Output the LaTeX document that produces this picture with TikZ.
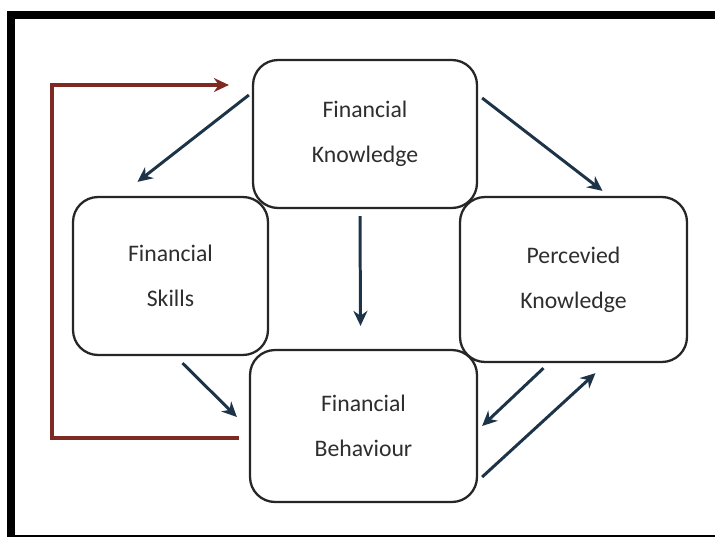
\documentclass[tikz,border=0pt]{standalone}
\usepackage{fontspec}
\setmainfont{Carlito}
\usepackage{xcolor}
\usetikzlibrary{positioning,calc,arrows.meta}

\definecolor{navy}{HTML}{1D3448}
\definecolor{loopred}{HTML}{7E2A22}
\definecolor{tipred}{HTML}{C8372D}
\definecolor{txt}{HTML}{2E2E2E}

\begin{document}
\begin{tikzpicture}[x=0.02cm, y=-0.02cm, >={Stealth[length=0.3cm, width=0.28cm]}, main/.style = {draw=black!85, line width=1.3pt, rounded corners=0.5cm, fill=white, align=center, text=txt, font=\fontsize{13.5}{25.5}\selectfont}, every edge/.append style={->, navy, line width=1.7pt}]

\useasboundingbox (0,0) rectangle (715,537);
\fill[black] (7,11) rectangle (715,19);
\fill[black] (7,11) rectangle (15,537);
\fill[black] (7,535) rectangle (715,537);

\node[main, minimum width=4.48cm, minimum height=2.96cm] (fk) at (365,134) {Financial\\Knowledge};
\node[main, minimum width=3.90cm, minimum height=3.16cm] (fs) at (170.5,276) {Financial\\Skills};
\node[main, minimum width=4.54cm, minimum height=3.30cm] (pk) at (573.5,279.5) {Percevied\\Knowledge};
\node[main, minimum width=4.54cm, minimum height=3.04cm] (fb) at (363.5,426) {Financial\\Behaviour};

\coordinate (loop) at (52,260);

\path
    ([xshift=-0.06cm, yshift=0.78cm]fk.west) edge ([xshift=-0.66cm, yshift=0.28cm]fs.north)
    ([xshift=0.08cm, yshift=0.72cm]fk.east) edge ([xshift=0.58cm, yshift=0.10cm]pk.north)
    ([xshift=-0.10cm, yshift=-0.14cm]fk.south) edge ([xshift=-0.06cm, yshift=0.46cm]fb.north)
    ([xshift=0.24cm, yshift=-0.14cm]fs.south) edge ([xshift=-0.24cm, yshift=0.18cm]fb.west)
    ([xshift=-0.60cm, yshift=-0.10cm]pk.south) edge ([xshift=0.08cm]fb.east)
    ([xshift=0.08cm, yshift=-1.02cm]fb.east) edge ([xshift=0.44cm, yshift=-0.20cm]pk.south);

% feedback loop
\draw[loopred, line width=2pt, -{Stealth[length=0.3cm, width=0.28cm, fill=tipred]}]
    ([xshift=-0.20cm, yshift=-0.24cm]fb.west) -| (loop) |- ([xshift=-0.46cm, yshift=0.98cm]fk.west);
\end{tikzpicture}
\end{document}
